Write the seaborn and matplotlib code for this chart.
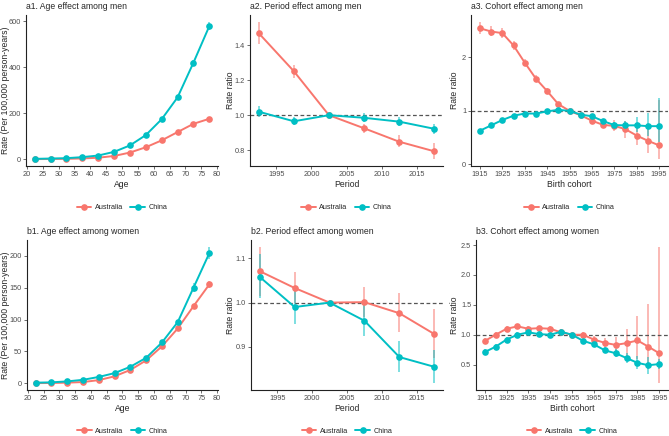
import numpy as np
import pandas as pd
import seaborn as sns
import matplotlib.pyplot as plt
from matplotlib.lines import Line2D

# x positions
age = [22.5, 27.5, 32.5, 37.5, 42.5, 47.5, 52.5, 57.5, 62.5, 67.5, 72.5, 77.5]
period = [1992.5, 1997.5, 2002.5, 2007.5, 2012.5, 2017.5]
cohort = list(range(1915, 2000, 5))

# a1. age effect, men
a1_aus = [0.4, 0.9, 1.6, 3.2, 6.5, 14, 29, 52, 82, 118, 154, 176]
a1_aus_lo = [0.3, 0.8, 1.4, 2.9, 6.0, 13, 27, 50, 79, 114, 149, 170]
a1_aus_hi = [0.5, 1.0, 1.8, 3.5, 7.0, 15, 31, 54, 85, 122, 159, 182]
a1_chn = [1.5, 3, 4.5, 9, 16, 32, 60, 105, 174, 269, 420, 579]
a1_chn_lo = [1.3, 2.7, 4.1, 8.4, 15, 30, 57, 101, 168, 262, 409, 561]
a1_chn_hi = [1.7, 3.3, 4.9, 9.6, 17, 34, 63, 109, 180, 276, 431, 598]

# a2. period effect, men
a2_aus = [1.47, 1.252, 1.0, 0.925, 0.848, 0.793]
a2_aus_lo = [1.41, 1.215, 1.0, 0.90, 0.815, 0.748]
a2_aus_hi = [1.535, 1.288, 1.0, 0.952, 0.884, 0.84]
a2_chn = [1.02, 0.965, 1.0, 0.985, 0.963, 0.922]
a2_chn_lo = [0.99, 0.943, 1.0, 0.96, 0.938, 0.893]
a2_chn_hi = [1.054, 0.99, 1.0, 1.01, 0.99, 0.952]

# a3. cohort effect, men
a3_aus = [2.54, 2.48, 2.45, 2.22, 1.9, 1.6, 1.37, 1.126, 1.0, 0.917, 0.818, 0.738, 0.72, 0.658, 0.54, 0.443, 0.357]
a3_aus_lo = [2.44, 2.39, 2.36, 2.14, 1.84, 1.55, 1.32, 1.09, 1.0, 0.89, 0.78, 0.69, 0.62, 0.50, 0.37, 0.22, 0.10]
a3_aus_hi = [2.66, 2.58, 2.55, 2.31, 1.97, 1.66, 1.42, 1.17, 1.0, 0.95, 0.86, 0.80, 0.83, 0.82, 0.72, 0.68, 1.20]
a3_chn = [0.63, 0.73, 0.83, 0.91, 0.95, 0.95, 0.99, 1.02, 1.0, 0.93, 0.90, 0.81, 0.735, 0.73, 0.73, 0.715, 0.715]
a3_chn_lo = [0.61, 0.71, 0.81, 0.89, 0.93, 0.93, 0.97, 1.0, 1.0, 0.91, 0.87, 0.77, 0.68, 0.64, 0.60, 0.53, 0.42]
a3_chn_hi = [0.65, 0.75, 0.85, 0.93, 0.97, 0.97, 1.01, 1.04, 1.0, 0.95, 0.93, 0.85, 0.79, 0.82, 0.88, 0.96, 1.24]

# b1. age effect, women
b1_aus = [0.3, 0.5, 1, 2, 5, 11, 21, 36, 58, 86, 121, 155]
b1_aus_lo = [0.2, 0.4, 0.8, 1.7, 4.5, 10, 20, 34, 56, 83, 117, 149]
b1_aus_hi = [0.4, 0.6, 1.2, 2.3, 5.5, 12, 22, 38, 60, 89, 125, 161]
b1_chn = [1, 1.5, 3, 5.5, 10, 16, 26, 40, 64, 96, 150, 204]
b1_chn_lo = [0.8, 1.3, 2.7, 5.0, 9.3, 15, 25, 38, 61, 92, 143, 195]
b1_chn_hi = [1.2, 1.7, 3.3, 6.0, 10.7, 17, 27, 42, 67, 100, 157, 214]

# b2. period effect, women
b2_aus = [1.071, 1.033, 1.0, 1.001, 0.976, 0.929]
b2_aus_lo = [1.015, 0.998, 1.0, 0.967, 0.933, 0.874]
b2_aus_hi = [1.126, 1.069, 1.0, 1.036, 1.022, 0.986]
b2_chn = [1.058, 0.99, 1.0, 0.959, 0.877, 0.855]
b2_chn_lo = [1.01, 0.951, 1.0, 0.925, 0.843, 0.818]
b2_chn_hi = [1.11, 1.03, 1.0, 0.995, 0.913, 0.893]

# b3. cohort effect, women
b3_aus = [0.895, 1.0, 1.1, 1.14, 1.1, 1.11, 1.1, 1.04, 1.0, 1.0, 0.92, 0.865, 0.83, 0.86, 0.905, 0.8, 0.69]
b3_aus_lo = [0.85, 0.96, 1.06, 1.1, 1.06, 1.07, 1.06, 1.0, 1.0, 0.96, 0.87, 0.8, 0.72, 0.65, 0.6, 0.43, 0.19]
b3_aus_hi = [0.94, 1.04, 1.14, 1.18, 1.14, 1.15, 1.14, 1.08, 1.0, 1.04, 0.98, 0.94, 0.97, 1.1, 1.32, 1.52, 2.47]
b3_chn = [0.71, 0.8, 0.92, 1.0, 1.04, 1.01, 1.0, 1.05, 1.0, 0.9, 0.84, 0.74, 0.69, 0.61, 0.53, 0.49, 0.51]
b3_chn_lo = [0.66, 0.76, 0.88, 0.96, 1.0, 0.97, 0.97, 1.01, 1.0, 0.87, 0.8, 0.7, 0.62, 0.53, 0.42, 0.35, 0.42]
b3_chn_hi = [0.76, 0.84, 0.96, 1.04, 1.08, 1.05, 1.03, 1.09, 1.0, 0.93, 0.88, 0.79, 0.76, 0.69, 0.64, 0.63, 0.6]

pal = {"Australia": "#F8766D", "China": "#00BFC4"}

sns.set_style("ticks")
plt.rcParams['font.family'] = ['Liberation Sans', 'DejaVu Sans']


def make_df(x, aus, aus_lo, aus_hi, chn, chn_lo, chn_hi):
    d1 = pd.DataFrame({"x": x, "y": aus, "lo": aus_lo, "hi": aus_hi, "country": "Australia"})
    d2 = pd.DataFrame({"x": x, "y": chn, "lo": chn_lo, "hi": chn_hi, "country": "China"})
    return pd.concat([d1, d2], ignore_index=True)


panels = [
    ("a1. Age effect among men", make_df(age, a1_aus, a1_aus_lo, a1_aus_hi, a1_chn, a1_chn_lo, a1_chn_hi),
     "Age", "Rate (Per 100,000 person-years)", np.arange(20, 81, 5), [0, 200, 400, 600], "{:.0f}", False),
    ("a2. Period effect among men", make_df(period, a2_aus, a2_aus_lo, a2_aus_hi, a2_chn, a2_chn_lo, a2_chn_hi),
     "Period", "Rate ratio", np.arange(1995, 2016, 5), [0.8, 1.0, 1.2, 1.4], "{:.1f}", True),
    ("a3. Cohort effect among men", make_df(cohort, a3_aus, a3_aus_lo, a3_aus_hi, a3_chn, a3_chn_lo, a3_chn_hi),
     "Birth cohort", "Rate ratio", np.arange(1915, 1996, 10), [0, 1, 2], "{:.0f}", True),
    ("b1. Age effect among women", make_df(age, b1_aus, b1_aus_lo, b1_aus_hi, b1_chn, b1_chn_lo, b1_chn_hi),
     "Age", "Rate (Per 100,000 person-years)", np.arange(20, 81, 5), [0, 50, 100, 150, 200], "{:.0f}", False),
    ("b2. Period effect among women", make_df(period, b2_aus, b2_aus_lo, b2_aus_hi, b2_chn, b2_chn_lo, b2_chn_hi),
     "Period", "Rate ratio", np.arange(1995, 2016, 5), [0.9, 1.0, 1.1], "{:.1f}", True),
    ("b3. Cohort effect among women", make_df(cohort, b3_aus, b3_aus_lo, b3_aus_hi, b3_chn, b3_chn_lo, b3_chn_hi),
     "Birth cohort", "Rate ratio", np.arange(1915, 1996, 10), [0.5, 1.0, 1.5, 2.0, 2.5], "{:.1f}", True),
]

W, H = 669, 436
# panel boxes in pixels: left, right, top, bottom, x of the y-label's right edge
boxes = [
    (26, 218, 15, 166, 10), (250, 443, 15, 166, 235), (471, 668, 15, 166, 459),
    (27, 218, 240, 390, 10), (251, 443, 240, 390, 235), (476, 668, 240, 390, 459),
]

fig = plt.figure(figsize=(W / 100, H / 100), dpi=100)

for (title, df, xlab, ylab, xt, yt, fmt, ref), (x0, x1, y0, y1, lx) in zip(panels, boxes):
    ax = fig.add_axes([x0 / W, 1 - y1 / H, (x1 - x0) / W, (y1 - y0) / H])

    for name, g in df.groupby("country"):
        ax.vlines(g["x"], g["lo"], g["hi"], color=pal[name], alpha=0.55, lw=1.3, zorder=1)
    sns.lineplot(data=df, x="x", y="y", hue="country", palette=pal, marker="o",
                 markersize=4.8, markeredgewidth=0, linewidth=1.4, legend=False,
                 errorbar=None, ax=ax, zorder=3)
    if ref:
        ax.axhline(1, color="#555555", ls=(0, (3, 2)), lw=0.9, zorder=2)

    ax.set_xticks(xt)
    ax.set_yticks(yt)
    ax.set_yticklabels([fmt.format(v) for v in yt])
    ax.margins(x=0.05, y=0.05)
    ax.set_title(title, loc="left", fontsize=6.2, pad=4)
    ax.set_xlabel(xlab, fontsize=6.2, labelpad=1.5)
    ax.set_ylabel(ylab, fontsize=6.2)
    ax.yaxis.set_label_coords((lx - x0) / (x1 - x0), 0.5)
    ax.tick_params(labelsize=5.3, length=2, width=0.5, pad=1.5, colors="#333333", labelcolor="#4D4D4D")
    for s in ["left", "bottom"]:
        ax.spines[s].set_linewidth(0.8)
        ax.spines[s].set_color("#222222")
    sns.despine(ax=ax)

    handles = [Line2D([], [], color=pal[k], marker="o", markersize=4.8, markeredgewidth=0, lw=1.4)
               for k in pal]
    ax.legend(handles, list(pal), loc="center", bbox_to_anchor=(0.5, -0.275), ncol=2,
              frameon=False, fontsize=5.2, handlelength=2, columnspacing=1.0, handletextpad=0.5)

fig.savefig("out.png", dpi=100)
